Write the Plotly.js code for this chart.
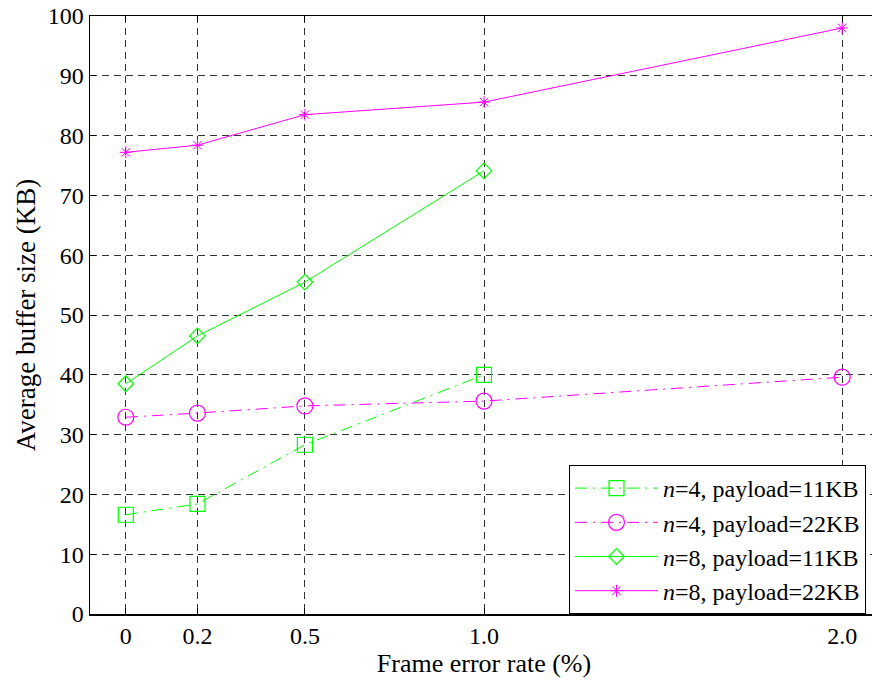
<!DOCTYPE html>
<html>
<head>
<meta charset="utf-8">
<script src="https://cdn.plot.ly/plotly-3.0.1.min.js"></script>
<style>
html,body{margin:0;padding:0;overflow:hidden;background:#fff;}
#chart{width:878px;height:683px;}
</style>
</head>
<body>
<div id="chart"></div>
<script>
const xTicks = [0, 0.2, 0.5, 1.0, 2.0];
const xTickLabels = ['0', '0.2', '0.5', '1.0', '2.0'];
const yTicks = [0, 10, 20, 30, 40, 50, 60, 70, 80, 90, 100];

const x_n4_11 = [0, 0.2, 0.5, 1.0];
const y_n4_11 = [16.6, 18.4, 28.3, 40.0];

const x_n4_22 = [0, 0.2, 0.5, 1.0, 2.0];
const y_n4_22 = [32.9, 33.6, 34.8, 35.6, 39.6];

const x_n8_11 = [0, 0.2, 0.5, 1.0];
const y_n8_11 = [38.5, 46.5, 55.5, 74.1];

const x_n8_22 = [0, 0.2, 0.5, 1.0, 2.0];
const y_n8_22 = [77.2, 78.4, 83.5, 85.6, 98.0];

const names = [
  '<i>n</i>=4, payload=11KB',
  '<i>n</i>=4, payload=22KB',
  '<i>n</i>=8, payload=11KB',
  '<i>n</i>=8, payload=22KB'
];

const green = '#00ff00', magenta = '#ff00ff';
const dashdot = '12px,6px,2px,6px';

const traces = [
  {x: x_n4_11, y: y_n4_11, name: names[0], mode: 'lines+markers',
   line: {color: green, width: 1, dash: dashdot},
   marker: {symbol: 'square-open', size: 15, color: green, line: {width: 1.2}}},
  {x: x_n4_22, y: y_n4_22, name: names[1], mode: 'lines+markers',
   line: {color: magenta, width: 1, dash: dashdot},
   marker: {symbol: 'circle-open', size: 16, color: magenta, line: {width: 1.2}}},
  {x: x_n8_11, y: y_n8_11, name: names[2], mode: 'lines+markers',
   line: {color: green, width: 1},
   marker: {symbol: 'diamond-open', size: 12, color: green, line: {width: 1.2}}},
  {x: x_n8_22, y: y_n8_22, name: names[3], mode: 'lines+markers',
   line: {color: magenta, width: 1},
   marker: {symbol: 'asterisk-open', size: 10, color: magenta, line: {width: 1}}}
];

const fam = 'Liberation Serif, Times New Roman, serif';
const f = (s) => ({family: fam, size: s, color: '#000'});

const layout = {
  width: 878, height: 683,
  margin: {l: 90, r: 0, t: 16, b: 69},
  paper_bgcolor: '#fff', plot_bgcolor: '#fff',
  font: f(24),
  showlegend: true,
  legend: {
    x: (569 - 90) / 788, xanchor: 'left', y: 0, yanchor: 'bottom',
    xref: 'paper', yref: 'paper',
    bgcolor: '#fff', bordercolor: '#000', borderwidth: 1,
    font: f(24),
    itemwidth: 83
  },
  xaxis: {
    range: [-0.1, 2.1],
    tickvals: xTicks, ticktext: xTickLabels,
    ticks: 'inside', ticklen: 6, tickcolor: '#000',
    showline: true, linecolor: '#000', linewidth: 1.5, mirror: 'ticks',
    showgrid: true, gridcolor: '#333', griddash: '7px,5px', gridwidth: 1,
    zeroline: false,
    tickfont: f(24),
    title: {text: 'Frame error rate (%)', font: f(26), standoff: 4}
  },
  yaxis: {
    range: [0, 100],
    tickvals: yTicks,
    ticks: 'inside', ticklen: 6, tickcolor: '#000',
    showline: true, linecolor: '#000', linewidth: 1.5, mirror: 'ticks',
    showgrid: true, gridcolor: '#333', griddash: '7px,5px', gridwidth: 1,
    zeroline: false,
    tickfont: f(24),
    title: {text: 'Average buffer size (KB)', font: f(27), standoff: 4}
  }
};

Plotly.newPlot('chart', traces, layout, {displayModeBar: false, staticPlot: true});
</script>
</body>
</html>
